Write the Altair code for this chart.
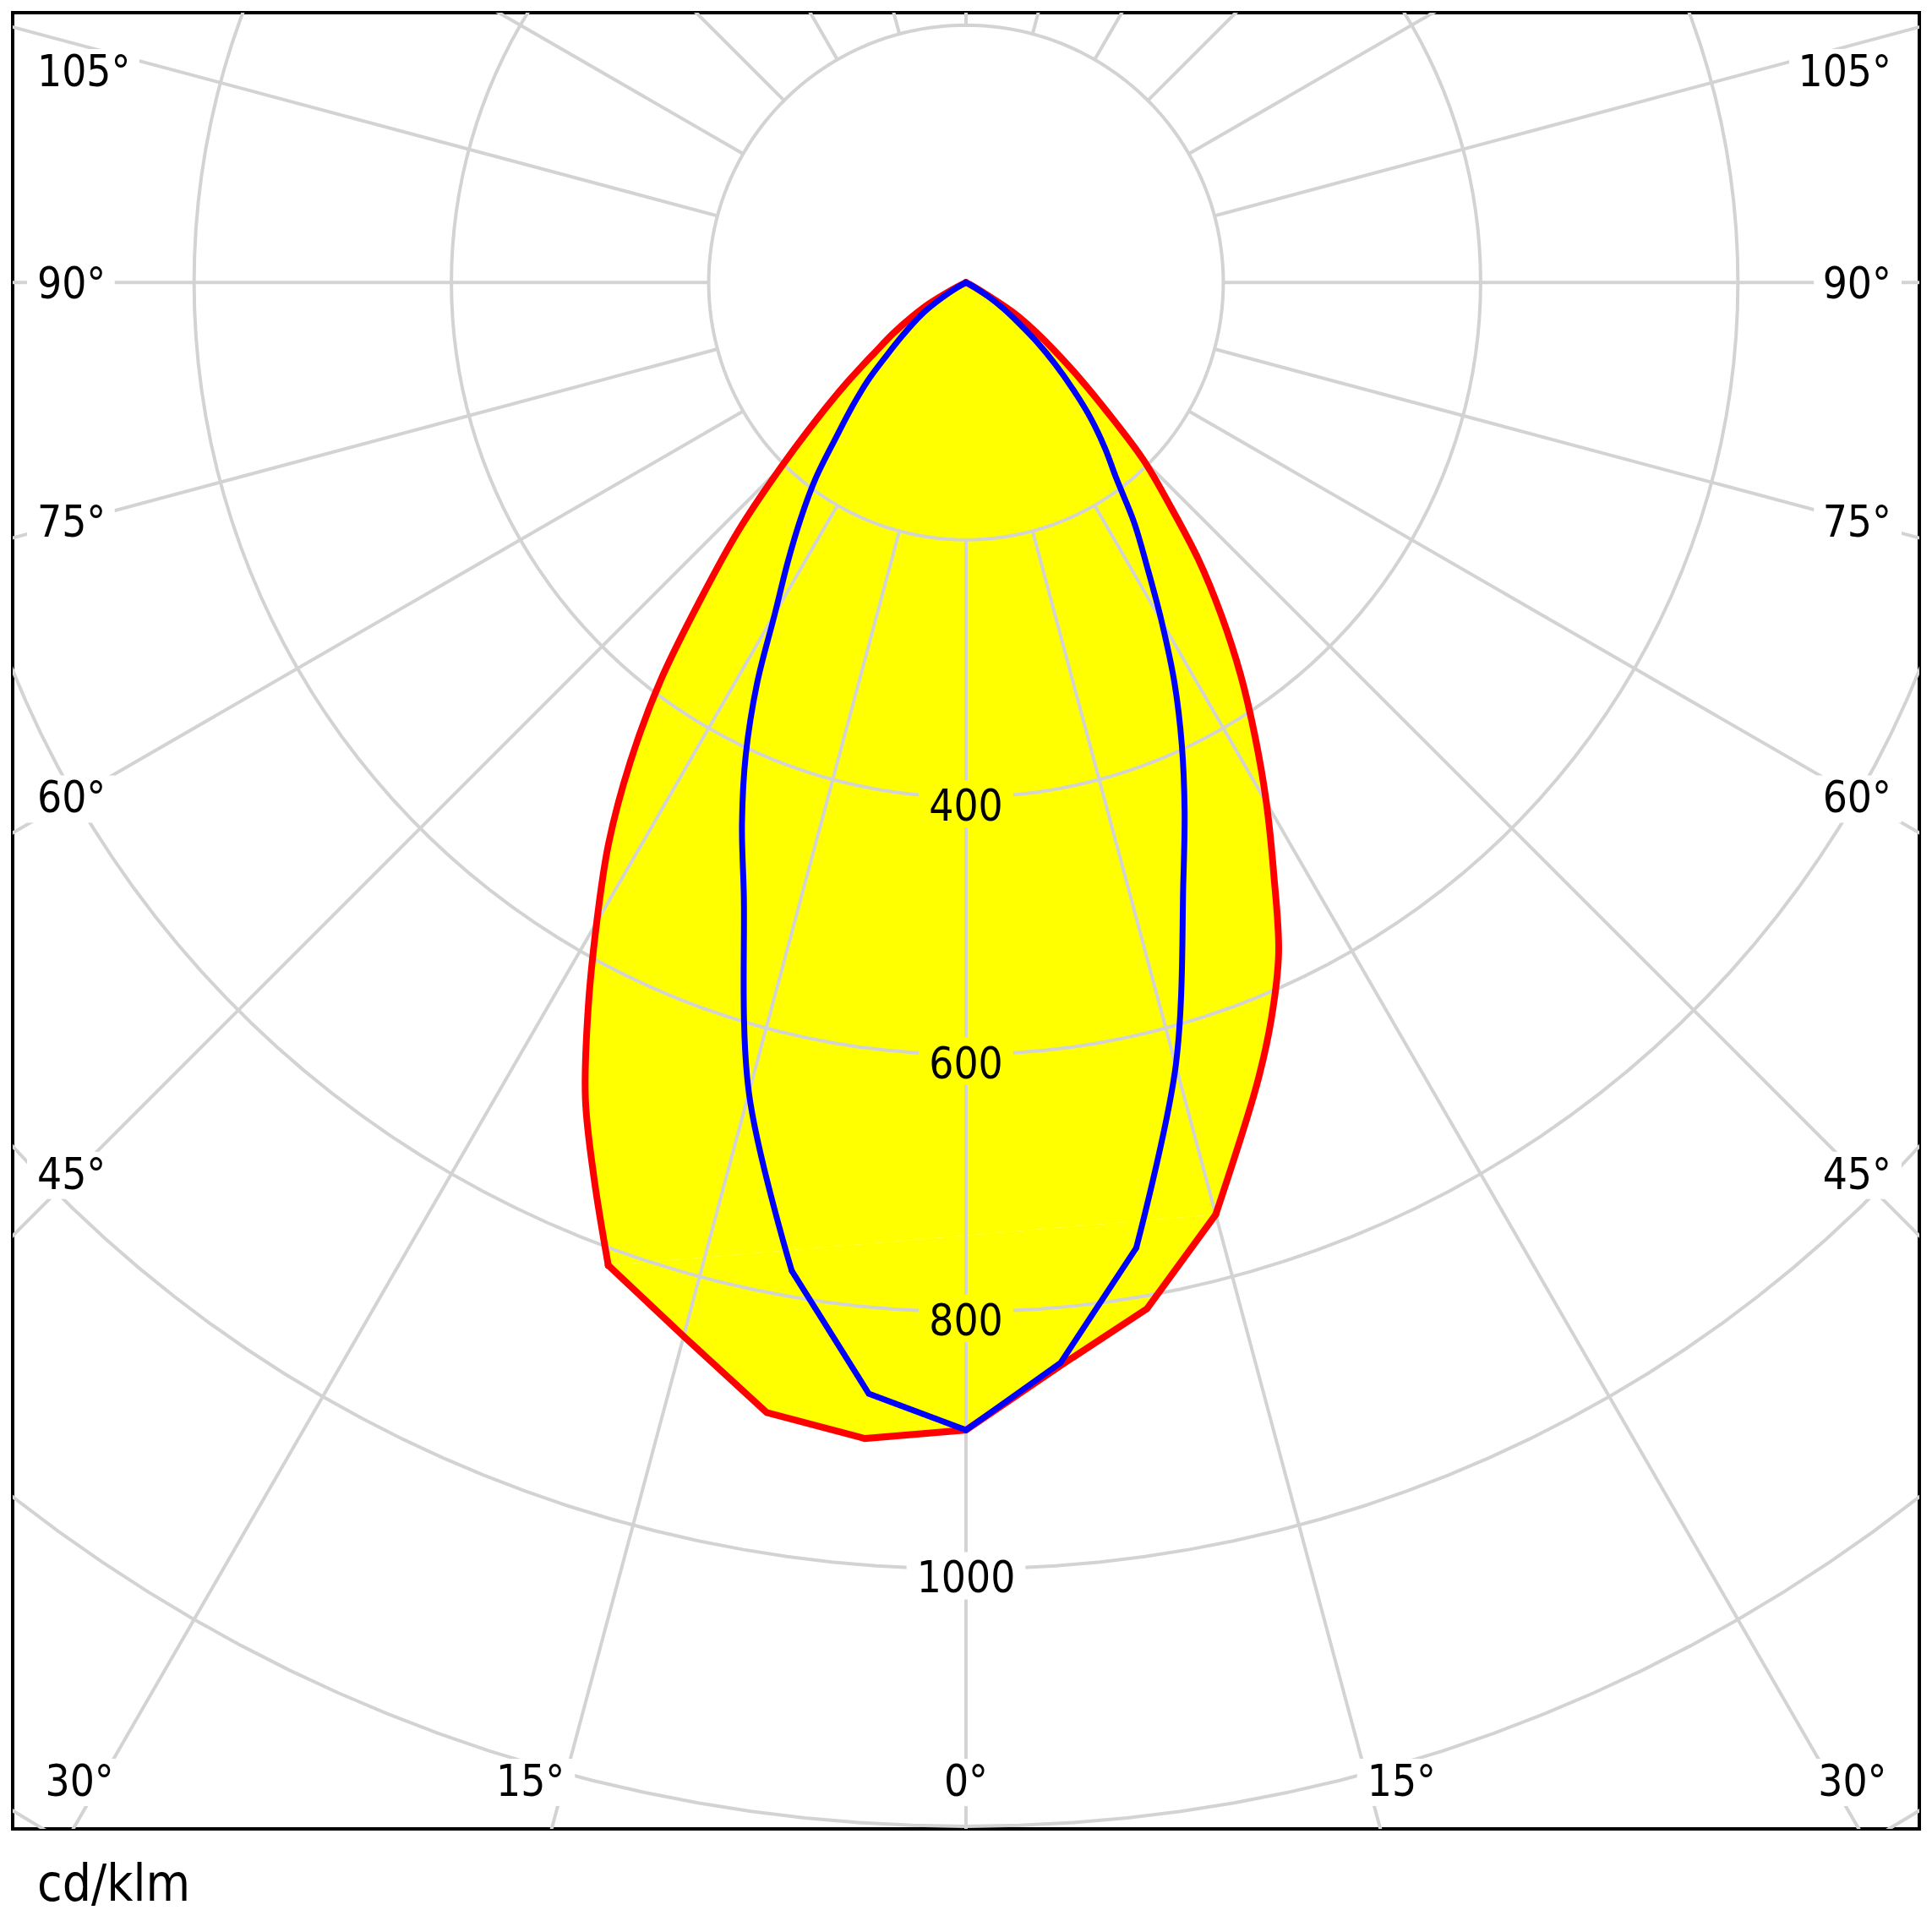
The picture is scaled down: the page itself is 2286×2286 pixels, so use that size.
import math
import altair as alt
import pandas as pd

# ---------------- data (cd/klm) ----------------
gamma = [0, 5, 10, 15, 20, 22.5, 25, 27.5, 30, 32.5, 35, 37.5, 40, 42.5, 45,
         47.5, 50, 52.5, 55, 57.5, 60, 62.5, 65, 70, 75, 80, 85, 90]
red_c0 = [892, 845, 810, 750, 662, 620, 575, 518, 467, 418, 372, 326, 281, 234, 195,
          149, 114, 86, 64, 44, 14, 3, 0, 0, 0, 0, 0, 0]
red_c180 = [892, 902, 892, 848, 813, 755, 700, 636, 574, 517, 455, 390, 320, 262, 204,
            157, 120, 89, 69, 50, 33, 12, 2, 0, 0, 0, 0, 0]
blue_c90 = [892, 843, 762, 630, 494, 444, 397, 351, 304, 262, 228, 192, 168, 144, 118,
            94, 72, 51, 36, 22, 8, 2, 0, 0, 0, 0, 0, 0]
blue_c270 = [892, 867, 780, 652, 505, 455, 405, 352, 297, 258, 224, 192, 157, 131, 108,
             83, 65, 51, 38, 22, 8, 2, 0, 0, 0, 0, 0, 0]

grid_radii = [200, 400, 600, 800, 1000, 1200, 1400]
spoke_angles = list(range(0, 360, 15))
radius_labels = [400, 600, 800, 1000]
side_labels = [105, 90, 75, 60, 45]
bottom_labels = [-30, -15, 0, 15, 30]
unit_text = "cd/klm"

# ---------------- layout ----------------
W, H = 2256, 2149
XDOM = [-741.0, 741.0]
YDOM = [-1202.0, 209.7]
PX = W / (XDOM[1] - XDOM[0])          # pixels per cd/klm
FONT = "DejaVu Sans Condensed, Liberation Sans, sans-serif"
FS = 51
GRID = "#d3d3d3"
YELLOW = "#ffff00"
INNER = 200
# angle above which each half-curve is drawn smooth (straight polygon below)
RED_KNEE = (15, 20)      # (C0 side, C180 side)
BLUE_KNEE = (10, 10)     # (C90 side, C270 side)


def pol(r, g, side=1):
    a = math.radians(g)
    return side * r * math.sin(a), -r * math.cos(a)


def half(values, side, g_lo, g_hi):
    """points of one half-curve from g_lo to g_hi (ascending), stopping at first zero"""
    out = []
    for g, v in zip(gamma, values):
        if g_lo <= g <= g_hi:
            out.append(pol(v, g, side))
            if v == 0:
                break
    return out


def frame(points, seg):
    return pd.DataFrame([{"x": x, "y": y, "i": k, "seg": seg} for k, (x, y) in enumerate(points)])


def pieces(right, left, knee):
    kr, kl = knee
    bottom = half(right, 1, 0, kr)[::-1] + half(left, -1, 5, kl)
    up_r = half(right, 1, kr, 90)
    up_l = half(left, -1, kl, 90)
    return bottom, up_r, up_l


r_bot, r_upr, r_upl = pieces(red_c0, red_c180, RED_KNEE)
b_bot, b_upr, b_upl = pieces(blue_c90, blue_c270, BLUE_KNEE)

fill_bottom_df = frame(r_bot, "b")
fill_top_df = frame(r_upl + r_upr[::-1][1:], "t")
red_bot_df = frame(r_bot, "b")
red_up_df = pd.concat([frame(r_upr, "r"), frame(r_upl, "l")])
blue_bot_df = frame(b_bot, "b")
blue_up_df = pd.concat([frame(b_upr, "r"), frame(b_upl, "l")])

circ_rows = []
for r in grid_radii:
    for a in range(0, 361, 2):
        x, y = pol(r, a)
        circ_rows.append({"x": x, "y": y, "r": r, "a": a})
circ_df = pd.DataFrame(circ_rows)

spoke_rows = []
for a in spoke_angles:
    x, y = pol(INNER, a)
    x2, y2 = pol(2000, a)
    spoke_rows.append({"x": x, "y": y, "x2": x2, "y2": y2})
spoke_df = pd.DataFrame(spoke_rows)


def text_w(t):
    return FS * sum(0.42 if ch == "°" else 0.572 for ch in t)


# label rows: x, y, text, align, background, dy
lab = []
left_x = XDOM[0] + 29 / PX
right_x = XDOM[1] - 33 / PX
top_clamp = YDOM[1] - 68 / PX
L = 692
for a in side_labels:
    yv = -L * math.cos(math.radians(a)) / math.sin(math.radians(a))
    yv = min(yv, top_clamp)
    lab.append({"x": left_x, "y": yv, "t": f"{a}°", "al": "left", "bg": "white", "k": "a"})
    lab.append({"x": right_x, "y": yv, "t": f"{a}°", "al": "right", "bg": "white", "k": "a"})
yb = YDOM[0] + 58 / PX
edge_gap = 40 / PX
for a in bottom_labels:
    t = f"{abs(a)}°"
    tw = text_w(t) / PX
    xv = -yb * math.tan(math.radians(a))
    if a < 0:
        al = "right"
        xv = max(xv, XDOM[0] + edge_gap + tw)
    elif a > 0:
        al = "left"
        xv = min(xv, XDOM[1] - edge_gap - tw)
    else:
        al = "center"
    lab.append({"x": xv, "y": yb, "t": t, "al": al, "bg": "white", "k": "a"})
for r in radius_labels:
    lab.append({"x": 0.0, "y": -r - 5 / PX, "t": str(r), "al": "center",
                "bg": YELLOW if r <= 800 else "white", "k": "r"})

box_rows = []
for d in lab:
    tw = text_w(d["t"])
    bw, bh = tw + 24, 56
    if d["al"] == "left":
        cx = d["x"] + (tw / 2) / PX
    elif d["al"] == "right":
        cx = d["x"] - (tw / 2) / PX
    else:
        cx = d["x"]
    h = bh / bw
    box_rows.append({"x": cx, "y": d["y"] - 3 / PX, "c": d["bg"], "s": bw * bw,
                     "p": f"M-1,{-h:.4f}L1,{-h:.4f}L1,{h:.4f}L-1,{h:.4f}Z"})
box_df = pd.DataFrame(box_rows)
lab_df = pd.DataFrame(lab)

xs = alt.Scale(domain=XDOM, nice=False, zero=False)
ys = alt.Scale(domain=YDOM, nice=False, zero=False)
X = alt.X("x:Q", scale=xs, axis=None)
Y = alt.Y("y:Q", scale=ys, axis=None)

fill_b = alt.Chart(fill_bottom_df).mark_line(
    fill=YELLOW, stroke=YELLOW, strokeWidth=2, clip=True).encode(x=X, y=Y, order="i:Q")
fill_t = alt.Chart(fill_top_df).mark_line(
    fill=YELLOW, stroke=YELLOW, strokeWidth=2, interpolate="catmull-rom", clip=True).encode(
    x=X, y=Y, order="i:Q")

circles = alt.Chart(circ_df).mark_line(color=GRID, strokeWidth=4, clip=True).encode(
    x=X, y=Y, detail="r:N", order="a:Q")

spokes = alt.Chart(spoke_df).mark_rule(color=GRID, strokeWidth=4, clip=True).encode(
    x=X, y=Y, x2="x2:Q", y2="y2:Q")

boxes = alt.Chart(box_df).mark_point(filled=True, opacity=1, strokeWidth=0).encode(
    x=X, y=Y,
    shape=alt.Shape("p:N", scale=None),
    size=alt.Size("s:Q", scale=None),
    color=alt.Color("c:N", scale=None))


def curve_layers(bot_df, up_df, color, width):
    lin = alt.Chart(bot_df).mark_line(color=color, strokeWidth=width, strokeCap="round",
                                      clip=True).encode(x=X, y=Y, order="i:Q")
    smooth = alt.Chart(up_df).mark_line(color=color, strokeWidth=width, strokeCap="round",
                                        interpolate="catmull-rom", clip=True).encode(
        x=X, y=Y, detail="seg:N", order="i:Q")
    return [lin, smooth]


red = curve_layers(red_bot_df, red_up_df, "#ff0000", 8)
blue = curve_layers(blue_bot_df, blue_up_df, "#0000ff", 7)

text_layers = []
for kind, dy in [("a", 4), ("r", 8)]:
    for al in ["left", "right", "center"]:
        sub = lab_df[(lab_df["al"] == al) & (lab_df["k"] == kind)]
        if len(sub) == 0:
            continue
        text_layers.append(
            alt.Chart(sub).mark_text(font=FONT, fontSize=FS, align=al, baseline="middle",
                                     dy=dy, color="black").encode(x=X, y=Y, text="t:N"))

unit_df = pd.DataFrame([{"x": left_x, "y": YDOM[0] - 67 / PX, "t": unit_text}])
unit = alt.Chart(unit_df).mark_text(font=FONT, fontSize=60, align="left",
                                    baseline="middle", color="black").encode(
    x=X, y=Y, text="t:N")

chart = alt.layer(fill_b, fill_t, circles, spokes, boxes, *red, *blue, *text_layers,
                  unit).properties(
    width=W, height=H,
    padding={"left": 15, "top": 15, "right": 15, "bottom": 122},
    autosize=alt.AutoSizeParams(type="none"),
    background="white",
).configure_view(stroke="black", strokeWidth=4)

chart.save("out.html", embed_options={"renderer": "svg", "actions": False})
